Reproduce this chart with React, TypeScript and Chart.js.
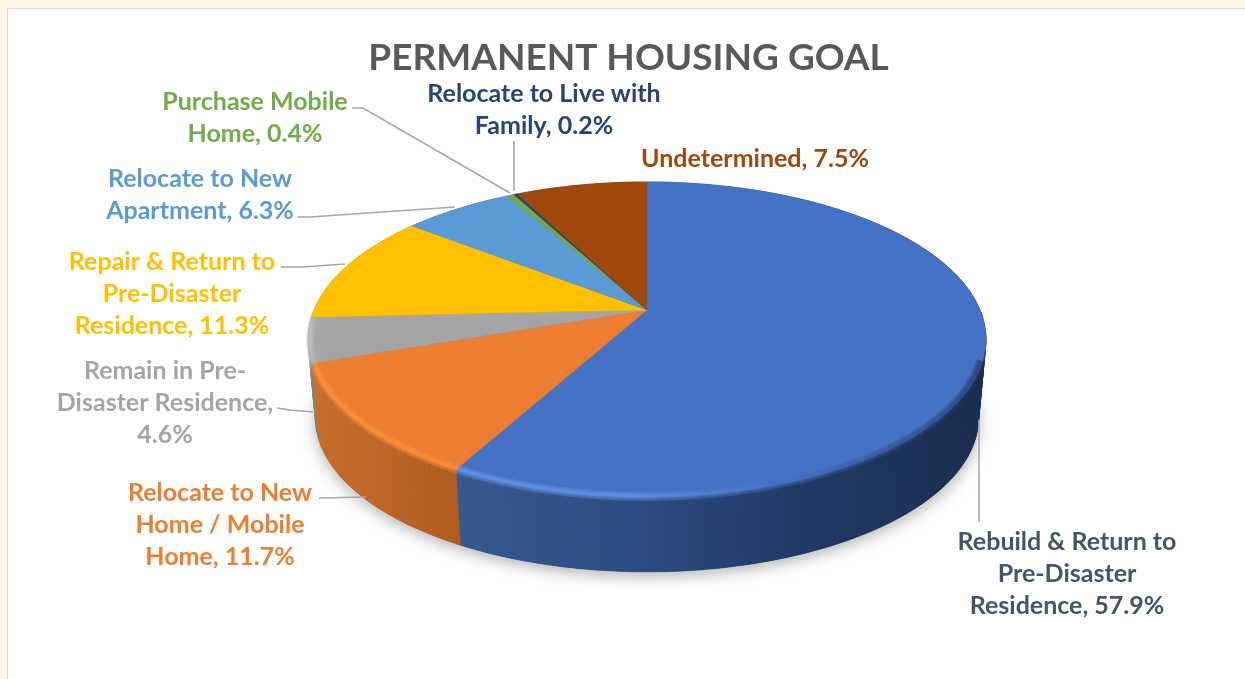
import React, { useEffect, useRef } from "react";
import { Chart, registerables } from "chart.js";

Chart.register(...registerables);

const categories = [
  "Rebuild & Return to Pre-Disaster Residence",
  "Relocate to New Home / Mobile Home",
  "Remain in Pre-Disaster Residence",
  "Repair & Return to Pre-Disaster Residence",
  "Relocate to New Apartment",
  "Purchase Mobile Home",
  "Relocate to Live with Family",
  "Undetermined",
];
const shares = [57.9, 11.7, 4.6, 11.3, 6.3, 0.4, 0.2, 7.5];
const sliceColors = ["#4472C4", "#ED7D31", "#A5A5A5", "#FFC000", "#5B9BD5", "#70AD47", "#264478", "#9E480E"];
const labelColors = ["#44546A", "#ED7D31", "#A5A5A5", "#FFC000", "#5B9BD5", "#70AD47", "#264478", "#9E480E"];
const labelLines = [
  ["Rebuild & Return to", "Pre-Disaster", "Residence, 57.9%"],
  ["Relocate to New", "Home / Mobile", "Home, 11.7%"],
  ["Remain in Pre-", "Disaster Residence,", "4.6%"],
  ["Repair & Return to", "Pre-Disaster", "Residence, 11.3%"],
  ["Relocate to New", "Apartment, 6.3%"],
  ["Purchase Mobile", "Home, 0.4%"],
  ["Relocate to Live with", "Family, 0.2%"],
  ["Undetermined, 7.5%"],
];
const titleText = "PERMANENT HOUSING GOAL";

// label placement: centre x, middle y of the first line
const labelAnchors = [
  [1067, 541.5], [220, 492.5], [165, 370.5], [172, 261.5], [200, 178.5], [255, 101.5], [544, 93.5], [755, 158.5],
];
const leaderPaths = [
  [[979, 420], [979, 522]],
  [[319, 498], [366, 497]],
  [[277, 408], [290, 410], [313, 412]],
  [[281, 267], [303, 267], [345, 264]],
  [[298, 217], [310, 217], [455, 207]],
  [[352, 108], [363, 108], [510, 193]],
  [[514, 141], [514, 191]],
];
// wall shading per slice, left to right
const wallStops = [
  ["#36598F", "#2C4C84", "#203863", "#1A2D50"],
  ["#C9702D", "#C2692A", "#B96324", "#B25D1F"],
  ["#C4C4C4", "#A8A8A8", "#8C8C8C", "#808080"],
  ["#BF9000", "#BF9000", "#BF9000", "#BF9000"],
  ["#44749F", "#44749F", "#44749F", "#44749F"],
  ["#54823A", "#54823A", "#54823A", "#54823A"],
  ["#1C3359", "#1C3359", "#1C3359", "#1C3359"],
  ["#76360A", "#76360A", "#76360A", "#76360A"],
];
const rimStops = [
  ["#6C9EF2", "#6A9BEE", "#3F6AB5", "#1F3560"],
  ["#FF9440", "#FF9440", "#FF9440", "#FF9440"],
  ["#C8C8C8", "#C8C8C8", "#B5B5B5", "#B5B5B5"],
  null, null, null, null, null,
];

const OX = 12;
const CX = 647;
const TOP_Y = 310;
const BOTTOM_Y = 389;
const RX = 333;
const RY = 152;
const K = 0.187;
const BOTTOM_SCALE = 0.978;

const project = (theta: number, scale: number, y0: number) => {
  const u = Math.sin(theta);
  const v = -Math.cos(theta);
  const w = 1 - K * v;
  return [CX + (scale * RX * u) / w, y0 + (scale * RY * v) / w];
};

const samples = (a: number, b: number) => {
  const n = Math.max(2, Math.ceil(((b - a) * 180) / Math.PI));
  const out: number[] = [];
  for (let i = 0; i <= n; i++) out.push(a + ((b - a) * i) / n);
  return out;
};

const tracePts = (ctx: CanvasRenderingContext2D, pts: number[][], start: boolean) => {
  pts.forEach((p, i) => {
    if (i === 0 && start) ctx.moveTo(p[0], p[1]);
    else ctx.lineTo(p[0], p[1]);
  });
};

const hGrad = (ctx: CanvasRenderingContext2D, x0: number, x1: number, stops: string[]) => {
  const g = ctx.createLinearGradient(x0, 0, Math.max(x1, x0 + 1), 0);
  stops.forEach((c, i) => g.addColorStop(i / (stops.length - 1), c));
  return g;
};

const piePlugin = {
  id: "perspectivePie",
  beforeDatasetDraw(chart: any) {
    const ctx: CanvasRenderingContext2D = chart.ctx;
    const arcs = chart.getDatasetMeta(0).data;
    const slices = arcs.map((el: any, i: number) => ({
      i,
      a: el.startAngle + Math.PI / 2,
      b: el.endAngle + Math.PI / 2,
    }));
    ctx.save();
    ctx.translate(-OX, 0);

    // soft ground shadow under the disc
    ctx.save();
    ctx.shadowColor = "rgba(0,0,0,0.32)";
    ctx.shadowBlur = 16;
    ctx.shadowOffsetY = 4;
    ctx.fillStyle = "#444";
    ctx.beginPath();
    tracePts(ctx, samples(0, Math.PI * 2).map((t) => project(t, BOTTOM_SCALE, BOTTOM_Y)), true);
    ctx.closePath();
    ctx.fill();
    ctx.restore();

    // side walls, back slices first, as narrow strips so the silhouette stays whole
    const order = [...slices].sort(
      (p: any, q: any) => -Math.cos((p.a + p.b) / 2) + Math.cos((q.a + q.b) / 2)
    );
    order.forEach((s: any) => {
      const ts = samples(s.a, s.b);
      const top = ts.map((t) => project(t, 1, TOP_Y));
      const bot = ts.map((t) => project(t, BOTTOM_SCALE, BOTTOM_Y));
      const xs = top.map((p) => p[0]);
      const g = hGrad(ctx, Math.min(...xs), Math.max(...xs), wallStops[s.i]);
      ctx.fillStyle = g;
      ctx.strokeStyle = g;
      ctx.lineWidth = 0.6;
      for (let j = 0; j < ts.length - 1; j++) {
        ctx.beginPath();
        ctx.moveTo(top[j][0], top[j][1]);
        ctx.lineTo(top[j + 1][0], top[j + 1][1]);
        ctx.lineTo(bot[j + 1][0], bot[j + 1][1]);
        ctx.lineTo(bot[j][0], bot[j][1]);
        ctx.closePath();
        ctx.fill();
        ctx.stroke();
      }
    });

    // top faces
    slices.forEach((s: any) => {
      ctx.beginPath();
      ctx.moveTo(CX, TOP_Y);
      tracePts(ctx, samples(s.a, s.b).map((t) => project(t, 1, TOP_Y)), false);
      ctx.closePath();
      ctx.fillStyle = sliceColors[s.i];
      ctx.fill();
      ctx.strokeStyle = sliceColors[s.i];
      ctx.lineWidth = 0.5;
      ctx.stroke();
    });

    // bevel along the front rim
    slices.forEach((s: any) => {
      const stops = rimStops[s.i];
      if (!stops) return;
      const a = Math.max(s.a, Math.PI * 0.6);
      const b = Math.min(s.b, Math.PI * 1.53);
      if (b <= a) return;
      const pts = samples(a, b).map((t) => project(t, 0.992, TOP_Y + 1));
      const xs = pts.map((p) => p[0]);
      ctx.strokeStyle = hGrad(ctx, Math.min(...xs), Math.max(...xs), stops);
      [9, 6, 3].forEach((w) => {
        ctx.globalAlpha = 0.3;
        ctx.lineWidth = w;
        ctx.beginPath();
        tracePts(ctx, pts, true);
        ctx.stroke();
      });
      ctx.globalAlpha = 1;
    });

    ctx.restore();
    return false;
  },
  afterDraw(chart: any) {
    const ctx: CanvasRenderingContext2D = chart.ctx;
    ctx.save();
    ctx.translate(-OX, 0);
    ctx.strokeStyle = "#A8A8A8";
    ctx.lineWidth = 1.6;
    leaderPaths.forEach((path) => {
      ctx.beginPath();
      tracePts(ctx, path, true);
      ctx.stroke();
    });
    ctx.font = "bold 25px Lato";
    ctx.textAlign = "center";
    ctx.textBaseline = "middle";
    labelLines.forEach((lines, i) => {
      ctx.fillStyle = labelColors[i];
      lines.forEach((line, j) => {
        ctx.fillText(line, labelAnchors[i][0], labelAnchors[i][1] + j * 32.4);
      });
    });
    ctx.restore();
  },
};

export default function App() {
  const ref = useRef<HTMLCanvasElement>(null);
  useEffect(() => {
    const chart = new Chart(ref.current!, {
      type: "pie",
      data: {
        labels: categories,
        datasets: [{ data: shares, backgroundColor: sliceColors, borderWidth: 0 }],
      },
      options: {
        responsive: false,
        animation: false,
        events: [],
        plugins: {
          legend: { display: false },
          tooltip: { enabled: false },
          title: {
            display: true,
            text: titleText,
            color: "#595959",
            font: { family: "Lato", size: 37, weight: "bold", lineHeight: 1.2 },
            padding: { top: 36, bottom: 10 },
          },
        },
      },
      plugins: [piePlugin],
    } as any);
    return () => chart.destroy();
  }, []);
  return (
    <div style={{ position: "fixed", inset: 0, overflow: "hidden", background: "#FCF5E6" }}>
      <div
        style={{
          position: "absolute",
          left: 7,
          top: 8,
          right: -10,
          bottom: -10,
          background: "#FFFFFF",
          border: "1px solid #DADADA",
        }}
      />
      <canvas
        ref={ref}
        width={1233}
        height={679}
        style={{ position: "absolute", left: OX, top: 0, width: 1233, height: 679 }}
      />
    </div>
  );
}
